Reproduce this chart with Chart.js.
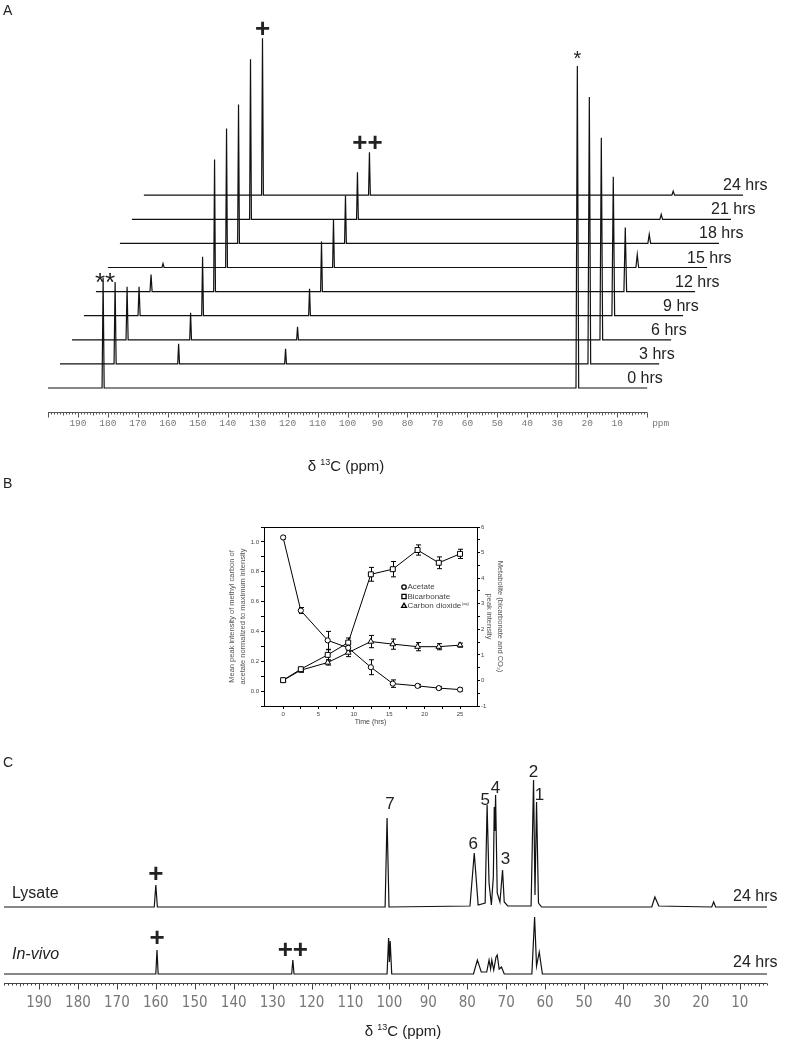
<!DOCTYPE html>
<html>
<head>
<meta charset="utf-8">
<script src="https://cdn.jsdelivr.net/npm/chart.js@4.4.1/dist/chart.umd.min.js"></script>
<style>
  html, body { margin: 0; padding: 0; background: #fff; }
  #page { position: relative; width: 785px; height: 1041px; overflow: hidden; font-family: "Liberation Sans", Arial, sans-serif; }
  .box { position: absolute; left: 0; width: 785px; }
  .tag { position: absolute; left: 3px; font-size: 14px; line-height: 14px; color: #222; z-index: 5; }
</style>
</head>
<body>
<div id="page">
  <div class="box" style="top:0;height:480px"><canvas id="spectraA"></canvas></div>
  <div class="box" style="top:470px;height:280px"><canvas id="timeB"></canvas></div>
  <div class="box" style="top:750px;height:291px"><canvas id="spectraC"></canvas></div>
  <div class="tag" style="top:3px">A</div>
  <div class="tag" style="top:476px">B</div>
  <div class="tag" style="top:755px">C</div>
</div>
<script>
// ---------- Panel A: stacked 13C spectra over time ----------
const hoursLabels = ['0 hrs', '3 hrs', '6 hrs', '9 hrs', '12 hrs', '15 hrs', '18 hrs', '21 hrs', '24 hrs'];
const carboxylPpm = 181.6;
const bicarbonatePpm = 160.4;
const co2Ppm = 124.7;
const methylPpm = 23.3;
const carboxylHeight = [110, 82, 53, 29, 17, 4, 0, 0, 0];
const bicarbonateHeight = [0, 20, 27, 59, 132, 139, 139, 160, 157];
const co2Height = [0, 15, 13, 27, 50, 48, 48, 47, 43];
const methylHeight = [322, 267, 202, 139, 64, 13, 9, 5, 4];
const ppmTickLabels = [190, 180, 170, 160, 150, 140, 130, 120, 110, 100, 90, 80, 70, 60, 50, 40, 30, 20, 10];

// ---------- Panel B: time course ----------
const timeHrs = [0, 2.5, 6.3, 9.2, 12.4, 15.5, 19, 22, 25];
const acetate = [1.03, 0.54, 0.34, 0.29, 0.16, 0.05, 0.035, 0.02, 0.01];
const acetateErr = [0.01, 0.02, 0.06, 0.02, 0.05, 0.025, 0.01, 0.01, 0.01];
const bicarbonate = [0.01, 0.44, 1.0, 1.48, 4.15, 4.35, 5.1, 4.6, 4.95];
const bicarbonateErr = [0.05, 0.06, 0.2, 0.18, 0.27, 0.3, 0.2, 0.23, 0.18];
const co2 = [0.0, 0.4, 0.7, 1.09, 1.52, 1.42, 1.32, 1.32, 1.38];
const co2Err = [0.04, 0.08, 0.1, 0.16, 0.24, 0.2, 0.16, 0.12, 0.08];
const timeTicks = [0, 2.5, 5, 7.5, 10, 12.5, 15, 17.5, 20, 22.5, 25];
const legendLabels = ['Acetate', 'Bicarbonate', 'Carbon dioxide'];

// ---------- Panel C: lysate vs in-vivo (ppm, intensity) ----------
const lysateTrace = [
  [199, 0], [160.4, 0], [160.0, 22], [159.6, 0],
  [101.1, 0], [100.6, 89], [100.1, 0],
  [79.3, 1], [78.2, 54], [77.2, 2],
  [75.4, 4], [74.9, 102], [74.4, 24], [73.8, 2], [73.3, 30], [73.06, 100], [72.9, 76], [72.72, 112],
  [72.3, 14], [71.6, 5], [70.93, 37], [70.5, 5], [69.6, 1],
  [63.6, 1], [62.97, 127], [62.6, 12], [62.2, 105], [61.7, 4], [60.9, 0],
  [32.6, 0], [31.8, 10], [30.8, 1],
  [17.2, 0], [16.7, 5], [16.2, 0],
  [3, 0]
];
const invivoTrace = [
  [199, 0], [160.0, 0], [159.7, 24], [159.4, 0],
  [125.1, 0], [124.8, 14], [124.5, 0],
  [100.6, 0], [100.2, 36], [100.0, 12], [99.8, 33], [99.4, 0],
  [78.4, 0], [77.4, 14], [76.4, 2], [75.0, 2], [74.4, 14], [74.0, 5], [73.7, 14], [73.2, 4],
  [72.6, 17], [72.3, 19], [71.8, 5], [71.2, 7], [70.5, 0],
  [63.4, 0], [62.7, 57], [62.2, 8], [61.5, 22], [60.7, 0],
  [3, 0]
];
const peakNumbers = ['7', '6', '5', '4', '3', '2', '1'];
const peakNumberPpm = [100.6, 78.2, 74.9, 72.72, 70.93, 62.97, 62.2];

// layout / style constants
const FONT = '"Liberation Sans", Arial, sans-serif';
const traceShiftPpm = 4.0;   // each later trace slides right
const traceStepY = 24.1;     // and up
const lysateBase = 76;
const invivoBase = 9;

Chart.defaults.font.family = FONT;
Chart.defaults.animation = false;

function peakPoints(peaks, shiftX, offsetY) {
    const pts = [{ x: 200 - shiftX, y: offsetY }];
    peaks.filter(p => p[1] > 0).sort((a, b) => b[0] - a[0]).forEach(p => {
        pts.push({ x: p[0] + p[2] - shiftX, y: offsetY });
        pts.push({ x: p[0] - shiftX, y: offsetY + p[1] });
        pts.push({ x: p[0] - p[2] - shiftX, y: offsetY });
    });
    pts.push({ x: 0 - shiftX, y: offsetY });
    return pts;
}

function drawPpmAxis(chart, o) {
    const ctx = chart.ctx;
    const xs = chart.scales.x;
    const y0 = o.lineY + 0.5;
    ctx.save();
    ctx.strokeStyle = o.color;
    ctx.lineWidth = 1;
    ctx.beginPath();
    ctx.moveTo(xs.getPixelForValue(o.max), y0);
    ctx.lineTo(xs.getPixelForValue(o.min), y0);
    for (let v = Math.ceil(o.min); v <= o.max; v++) {
        const x = Math.round(xs.getPixelForValue(v)) + 0.5;
        const len = v % 10 === 0 ? o.major : (v % 5 === 0 ? o.mid : o.minor);
        ctx.moveTo(x, y0);
        ctx.lineTo(x, y0 + len);
    }
    ctx.stroke();
    ctx.fillStyle = o.labelColor;
    ctx.font = o.labelFont;
    ctx.textAlign = 'center';
    ctx.textBaseline = 'middle';
    ppmTickLabels.forEach(v => ctx.fillText(String(v), xs.getPixelForValue(v), o.labelY));
    if (o.unit) {
        ctx.textAlign = 'left';
        ctx.fillText(o.unit, xs.getPixelForValue(o.min) + 5, o.labelY);
    }
    ctx.restore();
}

function drawShiftTitle(ctx, cx, y, size) {
    const big = size + 'px ' + FONT;
    const small = Math.round(size * 0.6) + 'px ' + FONT;
    const parts = [['δ ', big, 0], ['13', small, -size * 0.38], ['C (ppm)', big, 0]];
    ctx.save();
    ctx.fillStyle = '#222';
    ctx.textAlign = 'left';
    ctx.textBaseline = 'alphabetic';
    let w = 0;
    parts.forEach(p => { ctx.font = p[1]; w += ctx.measureText(p[0]).width; });
    let x = cx - w / 2;
    parts.forEach(p => {
        ctx.font = p[1];
        ctx.fillText(p[0], x, y + p[2]);
        x += ctx.measureText(p[0]).width;
    });
    ctx.restore();
}

function drawMark(ctx, m, x, y) {
    ctx.save();
    ctx.fillStyle = '#222';
    ctx.font = (m.bold ? 'bold ' : '') + m.size + 'px ' + FONT;
    ctx.textAlign = 'center';
    ctx.textBaseline = 'alphabetic';
    ctx.fillText(m.text, x + m.dx, y + m.dy);
    ctx.restore();
}

// ---------- Panel A chart ----------
const markersA = [
    { text: '+', series: bicarbonateHeight, ppm: bicarbonatePpm, trace: 8, size: 26, bold: true, dx: 0, dy: -1 },
    { text: '++', series: co2Height, ppm: co2Ppm, trace: 8, size: 26, bold: true, dx: -2, dy: -1 },
    { text: '*', series: methylHeight, ppm: methylPpm, trace: 0, size: 20, bold: false, dx: 0, dy: -1 },
    { text: '**', series: carboxylHeight, ppm: carboxylPpm, trace: 0, size: 26, bold: false, dx: 2, dy: 13 }
];

const spectraAPlugin = {
    id: 'spectraA',
    afterDatasetsDraw(chart) {
        const ctx = chart.ctx;
        const xs = chart.scales.x, ys = chart.scales.y;
        drawPpmAxis(chart, {
            lineY: chart.chartArea.bottom, min: 0, max: 200, color: '#555',
            minor: 2, mid: 3, major: 5,
            labelFont: '9.5px "Liberation Mono", monospace', labelColor: '#777', labelY: 423, unit: 'ppm'
        });
        ctx.save();
        ctx.font = '16px ' + FONT;
        ctx.fillStyle = '#222';
        ctx.textAlign = 'left';
        ctx.textBaseline = 'alphabetic';
        hoursLabels.forEach((t, i) => {
            const x = xs.getPixelForValue(0 - i * traceShiftPpm) - 20;
            const y = ys.getPixelForValue(i * traceStepY) - 5;
            ctx.fillText(t, x, y);
        });
        ctx.restore();
        markersA.forEach(m => {
            const x = xs.getPixelForValue(m.ppm - m.trace * traceShiftPpm);
            const y = ys.getPixelForValue(m.trace * traceStepY + m.series[m.trace]);
            drawMark(ctx, m, x, y);
        });
        drawShiftTitle(ctx, 346, 471, 15);
    }
};

new Chart(document.getElementById('spectraA'), {
    type: 'line',
    data: {
        datasets: hoursLabels.map((label, i) => ({
            label: label,
            data: peakPoints([
                [carboxylPpm, carboxylHeight[i], 0.35],
                [bicarbonatePpm, bicarbonateHeight[i], 0.3],
                [co2Ppm, co2Height[i], 0.3],
                [methylPpm, methylHeight[i], 0.45]
            ], i * traceShiftPpm, i * traceStepY),
            borderColor: '#111',
            borderWidth: 1.2,
            pointRadius: 0,
            tension: 0
        }))
    },
    options: {
        responsive: true,
        maintainAspectRatio: false,
        layout: { padding: { left: 48, right: 39, top: 26, bottom: 68 } },
        plugins: { legend: { display: false }, tooltip: { enabled: false } },
        scales: {
            x: { type: 'linear', display: false, min: -33, max: 200, reverse: true },
            y: { display: false, min: -24, max: 362 }
        }
    },
    plugins: [spectraAPlugin]
});

// ---------- Panel B chart ----------
const errorSets = [acetateErr, bicarbonateErr, co2Err];

const errorBarPlugin = {
    id: 'errorBars',
    beforeDatasetsDraw(chart) {
        const ctx = chart.ctx;
        const xs = chart.scales.x;
        ctx.save();
        ctx.strokeStyle = '#000';
        ctx.lineWidth = 1;
        chart.data.datasets.forEach((ds, di) => {
            const ys = chart.scales[ds.yAxisID];
            ds.data.forEach((p, i) => {
                const e = errorSets[di][i];
                const x = Math.round(xs.getPixelForValue(p.x)) + 0.5;
                const y1 = ys.getPixelForValue(p.y + e);
                const y2 = ys.getPixelForValue(p.y - e);
                ctx.beginPath();
                ctx.moveTo(x, y1); ctx.lineTo(x, y2);
                ctx.moveTo(x - 2.5, y1); ctx.lineTo(x + 2.5, y1);
                ctx.moveTo(x - 2.5, y2); ctx.lineTo(x + 2.5, y2);
                ctx.stroke();
            });
        });
        ctx.restore();
    }
};

const frameLegendPlugin = {
    id: 'frameLegend',
    afterDraw(chart) {
        const ctx = chart.ctx;
        const a = chart.chartArea;
        ctx.save();
        ctx.strokeStyle = '#000';
        ctx.lineWidth = 1;
        ctx.strokeRect(Math.round(a.left) + 0.5, Math.round(a.top) + 0.5,
            Math.round(a.right - a.left), Math.round(a.bottom - a.top));
        const lx = a.left + 140, ly = a.top + 60;
        ctx.font = '8px ' + FONT;
        ctx.textBaseline = 'middle';
        ctx.textAlign = 'left';
        chart.data.datasets.forEach((ds, i) => {
            const y = ly + i * 9.5;
            ctx.fillStyle = '#fff';
            ctx.strokeStyle = '#000';
            ctx.lineWidth = 1.3;
            Chart.helpers.drawPoint(ctx, { pointStyle: ds.pointStyle, radius: ds.pointRadius * 0.85, rotation: 0, borderWidth: 1.3 }, lx, y);
            ctx.fillStyle = '#444';
            ctx.font = '8px ' + FONT;
            ctx.fillText(legendLabels[i], lx + 3.5, y);
            if (i === 2) {
                const w = ctx.measureText(legendLabels[i]).width;
                ctx.font = '4px ' + FONT;
                ctx.fillText('(aq)', lx + 4 + w, y - 2);
            }
        });
        ctx.restore();
    }
};

function series(values) {
    return timeHrs.map((t, i) => ({ x: t, y: values[i] }));
}

const markerStyle = {
    borderColor: '#000',
    borderWidth: 1,
    pointBackgroundColor: '#fff',
    pointBorderColor: '#000',
    pointBorderWidth: 1,
    tension: 0
};

new Chart(document.getElementById('timeB'), {
    type: 'line',
    data: {
        datasets: [
            Object.assign({ label: 'Acetate', data: series(acetate), yAxisID: 'y', pointStyle: 'circle', pointRadius: 2.6 }, markerStyle),
            Object.assign({ label: 'Bicarbonate', data: series(bicarbonate), yAxisID: 'y2', pointStyle: 'rect', pointRadius: 3.5 }, markerStyle),
            Object.assign({ label: 'Carbon dioxide', data: series(co2), yAxisID: 'y2', pointStyle: 'triangle', pointRadius: 3.3 }, markerStyle)
        ]
    },
    options: {
        responsive: true,
        maintainAspectRatio: false,
        layout: { padding: { left: 224, right: 276, top: 57, bottom: 20 } },
        plugins: { legend: { display: false }, tooltip: { enabled: false } },
        scales: {
            x: {
                type: 'linear', min: -2.7, max: 27.4,
                afterBuildTicks: s => { s.ticks = timeTicks.map(v => ({ value: v })); },
                afterFit: s => { s.height = 24; },
                ticks: { font: { size: 6 }, color: '#444', padding: 2, maxRotation: 0, autoSkip: false,
                    callback: v => (v % 5 === 0 ? String(v) : '') },
                grid: { drawOnChartArea: false, tickLength: 3, color: '#000' },
                border: { display: false },
                title: { display: true, text: 'Time (hrs)', font: { size: 7 }, color: '#444', padding: { top: 0, bottom: 4 } }
            },
            y: {
                position: 'left', min: -0.1, max: 1.1,
                afterFit: s => { s.width = 40; },
                ticks: { stepSize: 0.1, font: { size: 6 }, color: '#444', padding: 2, autoSkip: false,
                    callback: v => { const r = Math.round(v * 10); return (r >= 0 && r <= 10 && r % 2 === 0) ? (r / 10).toFixed(1) : ''; } },
                grid: { drawOnChartArea: false, tickLength: 3, color: '#000' },
                border: { display: false },
                title: { display: true, text: ['Mean peak intensity of methyl carbon of', 'acetate normalized to maximum intensity'],
                    font: { size: 7.5, lineHeight: 1.5 }, color: '#555', padding: { top: 2.5, bottom: 0 } }
            },
            y2: {
                position: 'right', min: -1, max: 6,
                afterFit: s => { s.width = 32; },
                ticks: { stepSize: 0.5, font: { size: 6 }, color: '#444', padding: 1, autoSkip: false,
                    callback: v => (Number.isInteger(v) ? String(v) : '') },
                grid: { drawOnChartArea: false, tickLength: 3, color: '#000' },
                border: { display: false },
                title: { display: true, text: ['Metabolite (bicarbonate and CO₂)', 'peak intensity'],
                    font: { size: 7.5, lineHeight: 1.5 }, color: '#555', padding: { top: 3.4, bottom: 0 } }
            }
        }
    },
    plugins: [errorBarPlugin, frameLegendPlugin]
});

// ---------- Panel C chart ----------
const markersC = [
    { text: '+', trace: lysateTrace, base: lysateBase, ppm: 160.0, size: 26, bold: true, dx: 0, dy: -3 },
    { text: '+', trace: invivoTrace, base: invivoBase, ppm: 159.7, size: 26, bold: true, dx: 0, dy: -4 },
    { text: '++', trace: invivoTrace, base: invivoBase, ppm: 124.8, size: 26, bold: true, dx: 0, dy: -2 }
];
const numberOffsets = [[3, -9], [-1, -4], [-2, 0], [0, -2], [3, -6], [0, -3], [3, -2]];

function heightAt(trace, ppm) {
    const p = trace.find(v => v[0] === ppm);
    return p ? p[1] : 0;
}

const spectraCPlugin = {
    id: 'spectraC',
    afterDatasetsDraw(chart) {
        const ctx = chart.ctx;
        const xs = chart.scales.x, ys = chart.scales.y;
        drawPpmAxis(chart, {
            lineY: chart.chartArea.bottom, min: 3, max: 199, color: '#444',
            minor: 2, mid: 3, major: 6,
            labelFont: '15px "Liberation Sans Narrow", "DejaVu Sans Condensed", sans-serif', labelColor: '#777', labelY: 253
        });
        markersC.forEach(m => {
            const x = xs.getPixelForValue(m.ppm);
            const y = ys.getPixelForValue(m.base + heightAt(m.trace, m.ppm));
            drawMark(ctx, m, x, y);
        });
        ctx.save();
        ctx.fillStyle = '#222';
        ctx.textAlign = 'center';
        ctx.textBaseline = 'alphabetic';
        ctx.font = '17px ' + FONT;
        peakNumbers.forEach((n, i) => {
            const x = xs.getPixelForValue(peakNumberPpm[i]);
            const y = ys.getPixelForValue(lysateBase + heightAt(lysateTrace, peakNumberPpm[i]));
            ctx.fillText(n, x + numberOffsets[i][0], y + numberOffsets[i][1]);
        });
        ctx.textAlign = 'left';
        ctx.font = '16px ' + FONT;
        const lysY = ys.getPixelForValue(lysateBase);
        const vivY = ys.getPixelForValue(invivoBase);
        ctx.fillText('Lysate', 12, lysY - 9);
        ctx.fillText('24 hrs', 733, lysY - 6);
        ctx.fillText('24 hrs', 733, vivY - 7);
        ctx.font = 'italic 16px ' + FONT;
        ctx.fillText('In-vivo', 12, vivY - 15);
        ctx.restore();
        drawShiftTitle(ctx, 403, 286, 15);
    }
};

new Chart(document.getElementById('spectraC'), {
    type: 'line',
    data: {
        datasets: [
            { label: 'Lysate', data: lysateTrace.map(p => ({ x: p[0], y: p[1] + lysateBase })) },
            { label: 'In-vivo', data: invivoTrace.map(p => ({ x: p[0], y: p[1] + invivoBase })) }
        ].map(ds => Object.assign(ds, { borderColor: '#111', borderWidth: 1.2, pointRadius: 0, tension: 0 }))
    },
    options: {
        responsive: true,
        maintainAspectRatio: false,
        layout: { padding: { left: 4, right: 18, top: 20, bottom: 58 } },
        plugins: { legend: { display: false }, tooltip: { enabled: false } },
        scales: {
            x: { type: 'linear', display: false, min: 3, max: 199, reverse: true },
            y: { display: false, min: 0, max: 213 }
        }
    },
    plugins: [spectraCPlugin]
});
</script>
</body>
</html>
